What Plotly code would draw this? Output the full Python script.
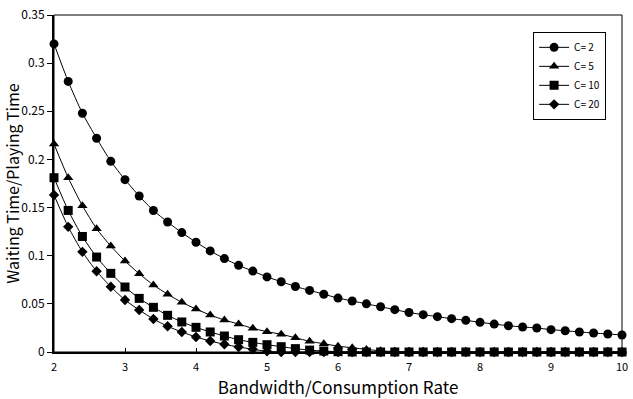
import plotly.graph_objects as go

x_vals = [2.0 + 0.2 * i for i in range(41)]

c2 = [0.320, 0.281, 0.248, 0.222, 0.198, 0.179, 0.162, 0.147, 0.135, 0.124,
      0.114, 0.105, 0.097, 0.090, 0.084, 0.078, 0.073, 0.068, 0.064, 0.060,
      0.056, 0.053, 0.050, 0.047, 0.044, 0.041, 0.0388, 0.0367, 0.0346, 0.0329,
      0.0308, 0.029, 0.0273, 0.026, 0.0249, 0.0232, 0.0221, 0.0208, 0.0197, 0.0187,
      0.0177]
c5 = [0.216, 0.181, 0.152, 0.128, 0.110, 0.0945, 0.0813, 0.0696, 0.060, 0.0516,
      0.0446, 0.0384, 0.0332, 0.029, 0.0246, 0.0211, 0.0184, 0.0148, 0.0111, 0.0086,
      0.0061, 0.0044, 0.0027, 0.0012, 0.0004, 0.0, 0.0, 0.0, 0.0, 0.0,
      0.0, 0.0, 0.0, 0.0, 0.0, 0.0, 0.0, 0.0, 0.0, 0.0,
      0.0]
c10 = [0.181, 0.147, 0.120, 0.0986, 0.0817, 0.0675, 0.0557, 0.0464, 0.0381, 0.0312,
       0.0256, 0.0208, 0.0166, 0.0128, 0.010, 0.0076, 0.0055, 0.0035, 0.002, 0.001,
       0.0003, 0.0, 0.0, 0.0, 0.0, 0.0, 0.0, 0.0, 0.0, 0.0,
       0.0, 0.0, 0.0, 0.0, 0.0, 0.0, 0.0, 0.0, 0.0, 0.0,
       0.0]
c20 = [0.163, 0.130, 0.104, 0.0838, 0.0678, 0.054, 0.0436, 0.0343, 0.0267, 0.0208,
       0.0156, 0.0114, 0.008, 0.0052, 0.0028, 0.0007, 0.0, 0.0, 0.0, 0.0,
       0.0, 0.0, 0.0, 0.0, 0.0, 0.0, 0.0, 0.0, 0.0, 0.0,
       0.0, 0.0, 0.0, 0.0, 0.0, 0.0, 0.0, 0.0, 0.0, 0.0,
       0.0]

series_names = ["C= 2", "C= 5", "C= 10", "C= 20"]
series_vals = [c2, c5, c10, c20]
symbols = ["circle", "triangle-up", "square", "diamond"]
sizes = [9, 9, 9, 8]

x_ticks = [2, 3, 4, 5, 6, 7, 8, 9, 10]
y_ticks = [0, 0.05, 0.1, 0.15, 0.2, 0.25, 0.3, 0.35]
y_ticktext = ["0", "0.05", "0.1", "0.15", "0.2", "0.25", "0.3", "0.35"]

FONT = "Liberation Sans Narrow, Noto Sans CJK JP, sans-serif"

fig = go.Figure()
for name, vals, sym, sz in zip(series_names, series_vals, symbols, sizes):
    fig.add_trace(go.Scatter(
        x=x_vals, y=vals, name=name, mode="lines+markers",
        line=dict(color="black", width=1, shape="spline", smoothing=0.6),
        marker=dict(symbol=sym, size=sz, color="black"),
        cliponaxis=False,
    ))

# thin frame on top/right
fig.add_shape(type="rect", xref="paper", yref="paper", x0=0, y0=0, x1=1, y1=1,
              line=dict(color="black", width=1), layer="above")

fig.update_layout(
    width=633, height=399,
    margin=dict(l=54, r=5, t=15, b=47),
    paper_bgcolor="white", plot_bgcolor="white",
    font=dict(family=FONT, color="black", size=11),
    legend=dict(
        x=0.972, y=0.95, xanchor="right", yanchor="top",
        bordercolor="black", borderwidth=1, bgcolor="white",
        font=dict(size=10, family=FONT), tracegroupgap=0,
        itemwidth=30,
    ),
    xaxis=dict(
        range=[2, 10], tickvals=x_ticks, ticktext=[str(v) for v in x_ticks],
        showgrid=False, zeroline=False, showline=True, linecolor="black", linewidth=2,
        ticks="inside", ticklen=4, tickcolor="black", tickfont=dict(size=11),
        ticklabeloverflow="allow", ticklabelstandoff=4,
        title=dict(text="Bandwidth/Consumption Rate", font=dict(size=17), standoff=8),
    ),
    yaxis=dict(
        range=[0, 0.35], tickvals=y_ticks, ticktext=y_ticktext,
        showgrid=False, zeroline=False, showline=True, linecolor="black", linewidth=2,
        ticks="outside", ticklen=5, tickcolor="black", tickfont=dict(size=12),
        ticklabeloverflow="allow",
        title=dict(text="Waiting Time/Playing Time", font=dict(size=16), standoff=1),
    ),
)

fig.write_html("out.html", config={"displayModeBar": False},
               post_script="document.body.style.margin='0';")
